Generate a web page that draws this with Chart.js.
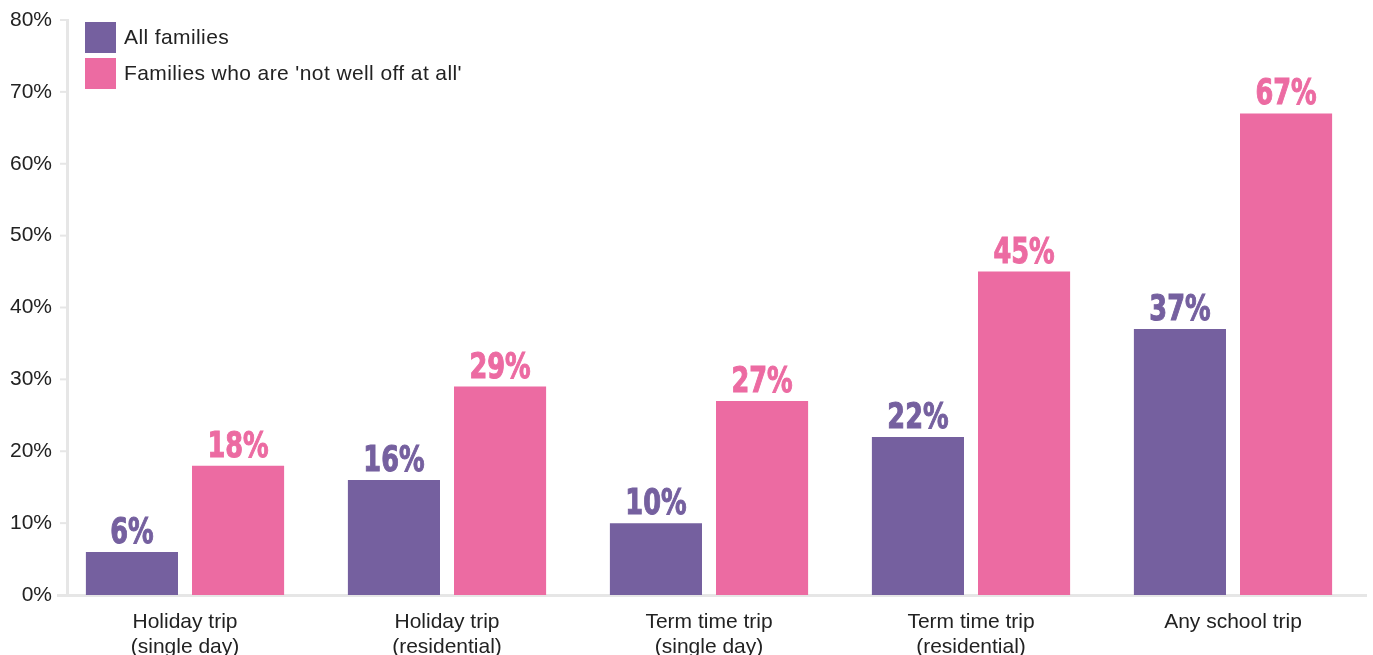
<!DOCTYPE html>
<html>
<head>
<meta charset="utf-8">
<script src="https://cdn.jsdelivr.net/npm/chart.js@4.4.0/dist/chart.umd.min.js"></script>
<style>
    body { margin: 0; background: #fff; }
    #trips { display: block; }
</style>
</head>
<body>
<canvas id="trips" width="1373" height="655"></canvas>
<script>
// values
var categories = [
    ['Holiday trip', '(single day)'],
    ['Holiday trip', '(residential)'],
    ['Term time trip', '(single day)'],
    ['Term time trip', '(residential)'],
    'Any school trip'
];
var allFamilies = [6, 16, 10, 22, 37];
var notWellOff = [18, 29, 27, 45, 67];
var seriesNames = ['All families', "Families who are 'not well off at all'"];
var yTicks = [0, 10, 20, 30, 40, 50, 60, 70, 80];

var purple = '#75609f';
var pink = '#ec6ba2';
var axisGrey = '#e6e6e6';
var textFont = '"Liberation Sans", sans-serif';

// axis line + little tick marks drawn at the reference's offset
const axisLines = {
    id: 'axisLines',
    beforeDatasetsDraw(chart) {
        const ctx = chart.ctx, a = chart.chartArea, y = chart.scales.y;
        ctx.save();
        ctx.strokeStyle = axisGrey;
        ctx.lineWidth = 3;
        ctx.beginPath();
        ctx.moveTo(67.5, a.top - 1);
        ctx.lineTo(67.5, a.bottom);
        ctx.stroke();
        ctx.lineWidth = 2;
        yTicks.forEach(function (t) {
            let py = y.getPixelForValue(t);
            ctx.beginPath();
            ctx.moveTo(60, py);
            ctx.lineTo(66, py);
            ctx.stroke();
        });
        ctx.lineWidth = 3;
        ctx.beginPath();
        ctx.moveTo(57, a.bottom + 0.5);
        ctx.lineTo(1367, a.bottom + 0.5);
        ctx.stroke();
        ctx.restore();
    }
};

const valueLabels = {
    id: 'valueLabels',
    afterDatasetsDraw(chart) {
        const ctx = chart.ctx;
        chart.data.datasets.forEach(function (ds, i) {
            chart.getDatasetMeta(i).data.forEach(function (bar, j) {
                ctx.save();
                ctx.font = 'bold 36px "DejaVu Sans Condensed", "DejaVu Sans", sans-serif';
                ctx.textAlign = 'center';
                ctx.textBaseline = 'alphabetic';
                ctx.fillStyle = ds.backgroundColor;
                ctx.strokeStyle = ds.backgroundColor;
                ctx.lineWidth = 1;
                ctx.translate(bar.x, bar.y - 9);
                ctx.scale(0.79, 1);
                ctx.fillText(ds.data[j] + '%', 0, 0);
                ctx.strokeText(ds.data[j] + '%', 0, 0);
                ctx.restore();
            });
        });
    }
};

const boxLegend = {
    id: 'boxLegend',
    afterDraw(chart) {
        const ctx = chart.ctx;
        ctx.save();
        ctx.font = '21px ' + textFont;
        ctx.letterSpacing = '0.4px';
        ctx.textBaseline = 'middle';
        chart.data.datasets.forEach(function (ds, i) {
            let top = 22 + i * 36;
            ctx.fillStyle = ds.backgroundColor;
            ctx.fillRect(85, top, 31, 31);
            ctx.fillStyle = '#222';
            ctx.fillText(ds.label, 124, top + 16);
        });
        ctx.restore();
    }
};

new Chart(document.getElementById('trips'), {
    type: 'bar',
    data: {
        labels: categories,
        datasets: [{
            label: seriesNames[0],
            data: allFamilies,
            backgroundColor: purple
        }, {
            label: seriesNames[1],
            data: notWellOff,
            backgroundColor: pink
        }]
    },
    options: {
        responsive: false,
        animation: false,
        devicePixelRatio: 1,
        categoryPercentage: 0.81,
        barPercentage: 0.868,
        layout: { padding: { top: 20, right: 9, left: 0, bottom: 0 } },
        plugins: {
            legend: { display: false },
            tooltip: { enabled: false }
        },
        scales: {
            x: {
                grid: { display: false, drawTicks: false },
                border: { display: false },
                afterFit: function (s) { s.height = 60; },
                ticks: {
                    padding: 15,
                    color: '#222',
                    font: { family: textFont, size: 21, lineHeight: 1.19 }
                }
            },
            y: {
                min: 0,
                max: 80,
                afterFit: function (s) { s.width = 54; },
                afterBuildTicks: function (s) {
                    s.ticks = yTicks.map(function (v) { return { value: v }; });
                },
                grid: { display: false, drawTicks: false },
                border: { display: false },
                ticks: {
                    padding: 2,
                    color: '#222',
                    font: { family: textFont, size: 21 },
                    callback: function (v) { return v + '%'; }
                }
            }
        }
    },
    plugins: [axisLines, valueLabels, boxLegend]
});
</script>
</body>
</html>
